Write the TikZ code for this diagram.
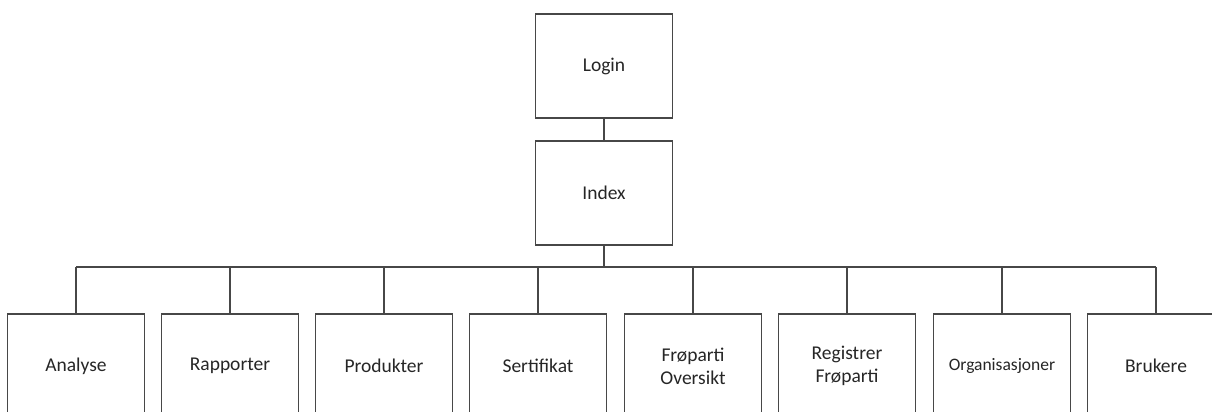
\documentclass[tikz,border=0pt]{standalone}
\usepackage{fontspec}
\setmainfont{Carlito}
\begin{document}
\begin{tikzpicture}[x=1pt,y=-1pt,
  page/.style={draw=black!72, line width=1.3pt, fill=white, minimum width=137pt,
    minimum height=104pt, inner sep=0pt, align=center, font=\fontsize{19.5}{23}\selectfont, text=black!85},
  link/.style={draw=black!72, line width=1.3pt}]
\useasboundingbox (0,0) rectangle (1212,412);
\clip (0,0) rectangle (1212,412);
\node[page] (login) at (604,66) {Login};
\node[page] (index) at (604,193) {Index};
\coordinate (bus) at (604,267);
\foreach \n/\x/\t in {analyse/76/Analyse, rapporter/230/Rapporter, produkter/384/Produkter,
    sertifikat/538/Sertifikat, oversikt/693/{Frøparti\\Oversikt}, registrer/847/{Registrer\\Frøparti},
    brukere/1156/Brukere}
  \node[page] (\n) at (\x,366) {\t};
\node[page, font=\fontsize{17.5}{21}\selectfont] (org) at (1002,366) {Organisasjoner};
\draw[link] (login) -- (index);
\draw[link, line width=1.8pt] (index.south) -- (bus);
\draw[link] (analyse.north |- bus) -- (brukere.north |- bus);
\foreach \n in {analyse,rapporter,produkter,sertifikat,oversikt,registrer,org,brukere}
  \draw[link] (\n.north |- bus) -- (\n.north);
\end{tikzpicture}
\end{document}
